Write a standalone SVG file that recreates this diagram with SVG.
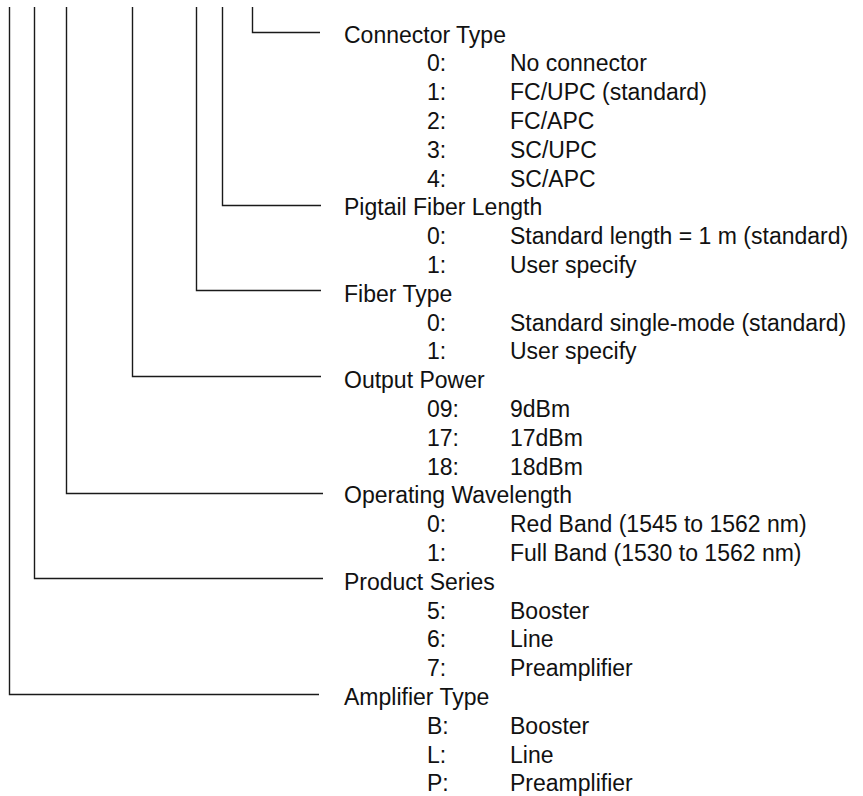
<svg xmlns="http://www.w3.org/2000/svg" width="863" height="796" viewBox="0 0 863 796">
<style>
.c{fill:none;stroke:#1a1a1a;stroke-width:1.4}
text{font-family:"Liberation Sans",Arial,sans-serif;font-size:23px;fill:#111}
</style>
<rect width="863" height="796" fill="#fff"/>
<g id="connectors">
<polyline class="c" points="252.5,7 252.5,32.5 320,32.5"/>
<polyline class="c" points="222.5,7 222.5,205.5 321,205.5"/>
<polyline class="c" points="196.5,7 196.5,290.5 321,290.5"/>
<polyline class="c" points="132.5,7 132.5,376.5 321,376.5"/>
<polyline class="c" points="66.5,7 66.5,493.5 323,493.5"/>
<polyline class="c" points="34.5,7 34.5,578.5 323,578.5"/>
<polyline class="c" points="9.5,7 9.5,694.5 319,694.5"/>
</g>
<g id="connector-type">
<text x="344" y="42.5">Connector Type</text>
<text x="427" y="71.3">0:</text><text x="510" y="71.3">No connector</text>
<text x="427" y="100.1">1:</text><text x="510" y="100.1">FC/UPC (standard)</text>
<text x="427" y="128.9">2:</text><text x="510" y="128.9">FC/APC</text>
<text x="427" y="157.7">3:</text><text x="510" y="157.7">SC/UPC</text>
<text x="427" y="186.5">4:</text><text x="510" y="186.5">SC/APC</text>
</g>
<g id="pigtail-fiber-length">
<text x="344" y="215.3">Pigtail Fiber Length</text>
<text x="427" y="244.1">0:</text><text x="510" y="244.1">Standard length = 1 m (standard)</text>
<text x="427" y="272.9">1:</text><text x="510" y="272.9">User specify</text>
</g>
<g id="fiber-type">
<text x="344" y="301.7">Fiber Type</text>
<text x="427" y="330.5">0:</text><text x="510" y="330.5">Standard single-mode (standard)</text>
<text x="427" y="359.3">1:</text><text x="510" y="359.3">User specify</text>
</g>
<g id="output-power">
<text x="344" y="388.1">Output Power</text>
<text x="427" y="416.9">09:</text><text x="510" y="416.9">9dBm</text>
<text x="427" y="445.7">17:</text><text x="510" y="445.7">17dBm</text>
<text x="427" y="474.5">18:</text><text x="510" y="474.5">18dBm</text>
</g>
<g id="operating-wavelength">
<text x="344" y="503.3">Operating Wavelength</text>
<text x="427" y="532.1">0:</text><text x="510" y="532.1">Red Band (1545 to 1562 nm)</text>
<text x="427" y="560.9">1:</text><text x="510" y="560.9">Full Band (1530 to 1562 nm)</text>
</g>
<g id="product-series">
<text x="344" y="589.7">Product Series</text>
<text x="427" y="618.5">5:</text><text x="510" y="618.5">Booster</text>
<text x="427" y="647.3">6:</text><text x="510" y="647.3">Line</text>
<text x="427" y="676.1">7:</text><text x="510" y="676.1">Preamplifier</text>
</g>
<g id="amplifier-type">
<text x="344" y="704.9">Amplifier Type</text>
<text x="427" y="733.7">B:</text><text x="510" y="733.7">Booster</text>
<text x="427" y="762.5">L:</text><text x="510" y="762.5">Line</text>
<text x="427" y="791.3">P:</text><text x="510" y="791.3">Preamplifier</text>
</g>
</svg>
